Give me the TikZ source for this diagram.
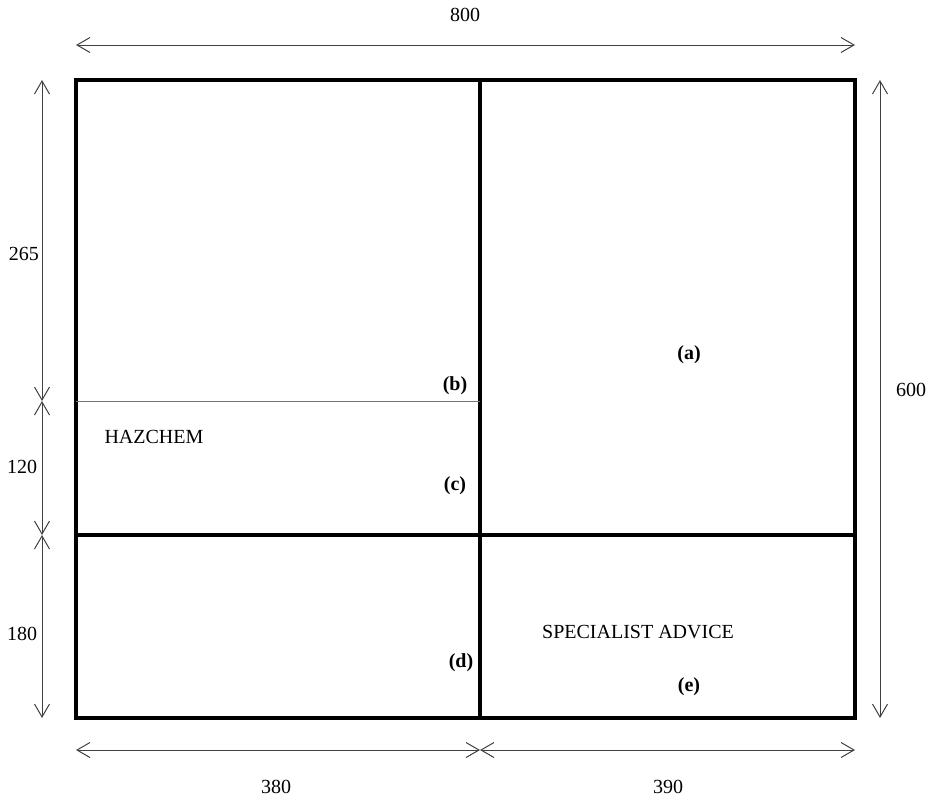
\documentclass[tikz,border=0pt]{standalone}
\usepackage{fontspec}
\setmainfont{Liberation Serif}
\usetikzlibrary{arrows.meta}
\begin{document}
\begin{tikzpicture}[x=1pt,y=-1pt,
  panel/.style={line width=4pt,line cap=rect},
  divider/.style={line width=3.5pt},
  thin rule/.style={line width=1pt,draw=black!55},
  dim/.style={line width=1pt,draw=black!75,{Straight Barb[length=13pt,width=15pt]}-{Straight Barb[length=13pt,width=15pt]}},
  dim label/.style={font=\fontsize{20}{23}\selectfont},
  tag/.style={font=\fontsize{20}{23}\selectfont\bfseries},
  caption/.style={font=\fontsize{20}{23}\selectfont}]
  \useasboundingbox (0,0) rectangle (933,804);
  % corners of the board
  \coordinate (tl) at (76,80);
  \coordinate (tr) at (855,80);
  \coordinate (bl) at (76,718);
  \coordinate (br) at (855,718);
  \coordinate (mt) at (480,80);
  \coordinate (mb) at (480,718);
  \coordinate (ml) at (76,535);
  \coordinate (mr) at (855,535);
  \coordinate (hl) at (76,401);
  \coordinate (hr) at (480,401);

  \draw[panel] (tl) rectangle (br);
  \draw[divider] (mt) -- (mb);
  \draw[divider] (ml) -- (mr);
  \draw[thin rule] (hl) -- (hr);

  % dimension ends
  \coordinate (t1) at (76,45);
  \coordinate (t2) at (855,45);
  \coordinate (r1) at (880,80);
  \coordinate (r2) at (880,718);
  \coordinate (l1) at (42,80);
  \coordinate (l2) at (42,401);
  \coordinate (l3) at (42,535);
  \coordinate (l4) at (42,718);
  \coordinate (b1) at (76,750);
  \coordinate (b2) at (480,750);
  \coordinate (b3) at (855,750);

  \draw[dim] (t1) -- (t2);
  \draw[dim] (r1) -- (r2);
  \draw[dim] (l1) -- (l2);
  \draw[dim] (l2) -- (l3);
  \draw[dim] (l3) -- (l4);
  \draw[dim] (b1) -- (b2);
  \draw[dim] (b2) -- (b3);

  \node[dim label] (w800) at (465,15) {800};
  \node[dim label] (h600) at (911,390) {600};
  \node[dim label] (h265) at (24,254) {265};
  \node[dim label] (h120) at (22,467) {120};
  \node[dim label] (h180) at (22,634) {180};
  \node[dim label] (w380) at (276,787) {380};
  \node[dim label] (w390) at (668,787) {390};

  \node[tag] (a) at (689,355) {(a)};
  \node[tag] (b) at (455,386) {(b)};
  \node[tag] (c) at (455,486) {(c)};
  \node[tag] (d) at (461,663) {(d)};
  \node[tag] (e) at (689,687) {(e)};

  \node[caption] (hazchem) at (154,437) {HAZCHEM};
  \node[caption] (advice) at (638,632) {SPECIALIST ADVICE};
\end{tikzpicture}
\end{document}
